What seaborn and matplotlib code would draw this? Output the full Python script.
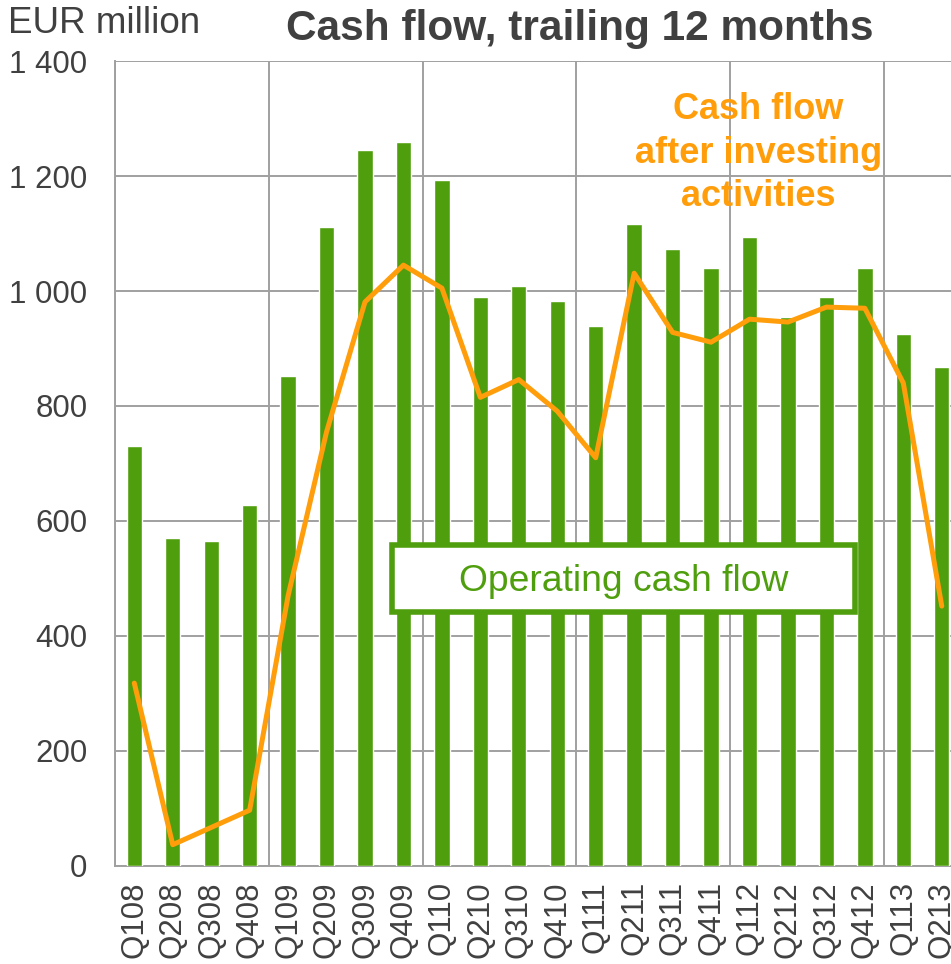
import numpy as np
import pandas as pd
import seaborn as sns
from matplotlib import pyplot as plt
from matplotlib.patches import Rectangle
from matplotlib.ticker import FuncFormatter, MultipleLocator

quarters = ['Q108', 'Q208', 'Q308', 'Q408', 'Q109', 'Q209', 'Q309', 'Q409',
            'Q110', 'Q210', 'Q310', 'Q410', 'Q111', 'Q211', 'Q311', 'Q411',
            'Q112', 'Q212', 'Q312', 'Q412', 'Q113', 'Q213']
operating_cf = [730, 570, 565, 628, 852, 1111, 1245, 1259,
                1193, 990, 1009, 983, 939, 1117, 1073, 1040,
                1094, 955, 990, 1040, 925, 867]
cf_after_investing = [318, 37, 67, 97, 470, 755, 981, 1045,
                      1005, 815, 846, 791, 710, 1031, 928, 911,
                      951, 946, 972, 970, 840, 452]

GREEN = '#4f9e0d'
ORANGE = '#ff9d0a'
GREY_TXT = '#404040'
GRID = '#a0a0a0'

df = pd.DataFrame({'Kwartał': quarters, 'OCF': operating_cf, 'CFAI': cf_after_investing})
df['poz'] = np.arange(len(df))

sns.set_style('white')
plt.rcParams['font.family'] = ['Liberation Sans', 'DejaVu Sans']

fig = plt.figure(figsize=(9.51, 9.64), dpi=100)
ax = fig.add_axes([0.121, 0.1017, 0.8895, 0.835])

sns.barplot(data=df, x='Kwartał', y='OCF', color=GREEN, saturation=1,
            width=0.4, ax=ax, zorder=3)
sns.lineplot(data=df, x='poz', y='CFAI', color=ORANGE, linewidth=3.6,
             ax=ax, zorder=4)

ax.set_xlim(-0.5, len(quarters) - 0.5)
ax.set_ylim(0, 1400)
ax.set_xlabel('')
ax.set_ylabel('')

# osie i siatka
ax.yaxis.set_major_locator(MultipleLocator(200))
ax.yaxis.set_major_formatter(FuncFormatter(lambda v, _: f'{int(v):,}'.replace(',', ' ')))
ax.set_xticks(df['poz'])
ax.set_xticklabels(quarters, rotation=90)
ax.set_xticks(np.arange(-0.5, len(quarters), 4), minor=True)
ax.grid(True, axis='y', which='major', color=GRID, linewidth=1.4, zorder=0)
ax.grid(True, axis='x', which='minor', color=GRID, linewidth=1.4, zorder=0)
ax.grid(False, axis='x', which='major')
ax.set_axisbelow(True)

ax.tick_params(axis='x', which='major', length=0, pad=11, labelsize=22.5, labelcolor=GREY_TXT)
ax.tick_params(axis='x', which='minor', length=10, width=1.4, color=GRID, direction='out')
ax.tick_params(axis='y', length=10, width=1.4, color=GRID, direction='out', pad=10,
               labelsize=22.5, labelcolor=GREY_TXT)

for side in ['top', 'right']:
    ax.spines[side].set_visible(False)
for side in ['left', 'bottom']:
    ax.spines[side].set_color(GRID)
    ax.spines[side].set_linewidth(1.4)

# ramka z opisem słupków
ax.add_patch(Rectangle((6.7, 442), 12.05, 116, facecolor='white', edgecolor=GREEN,
                       linewidth=4, zorder=6))
ax.text(12.72, 494, 'Operating cash flow', color=GREEN, fontsize=26.8,
        ha='center', va='center', zorder=7)

ax.text(16.23, 1240, 'Cash flow\nafter investing\nactivities', color=ORANGE,
        fontsize=26, fontweight='bold', ha='center', va='center',
        linespacing=1.3, zorder=7)

fig.text(0.008, 0.976, 'EUR million', fontsize=26.5, color=GREY_TXT, ha='left', va='center')
fig.text(0.61, 0.970, 'Cash flow, trailing 12 months', fontsize=30.5, fontweight='bold',
         color=GREY_TXT, ha='center', va='center')

fig.savefig('out.png', dpi=100)
